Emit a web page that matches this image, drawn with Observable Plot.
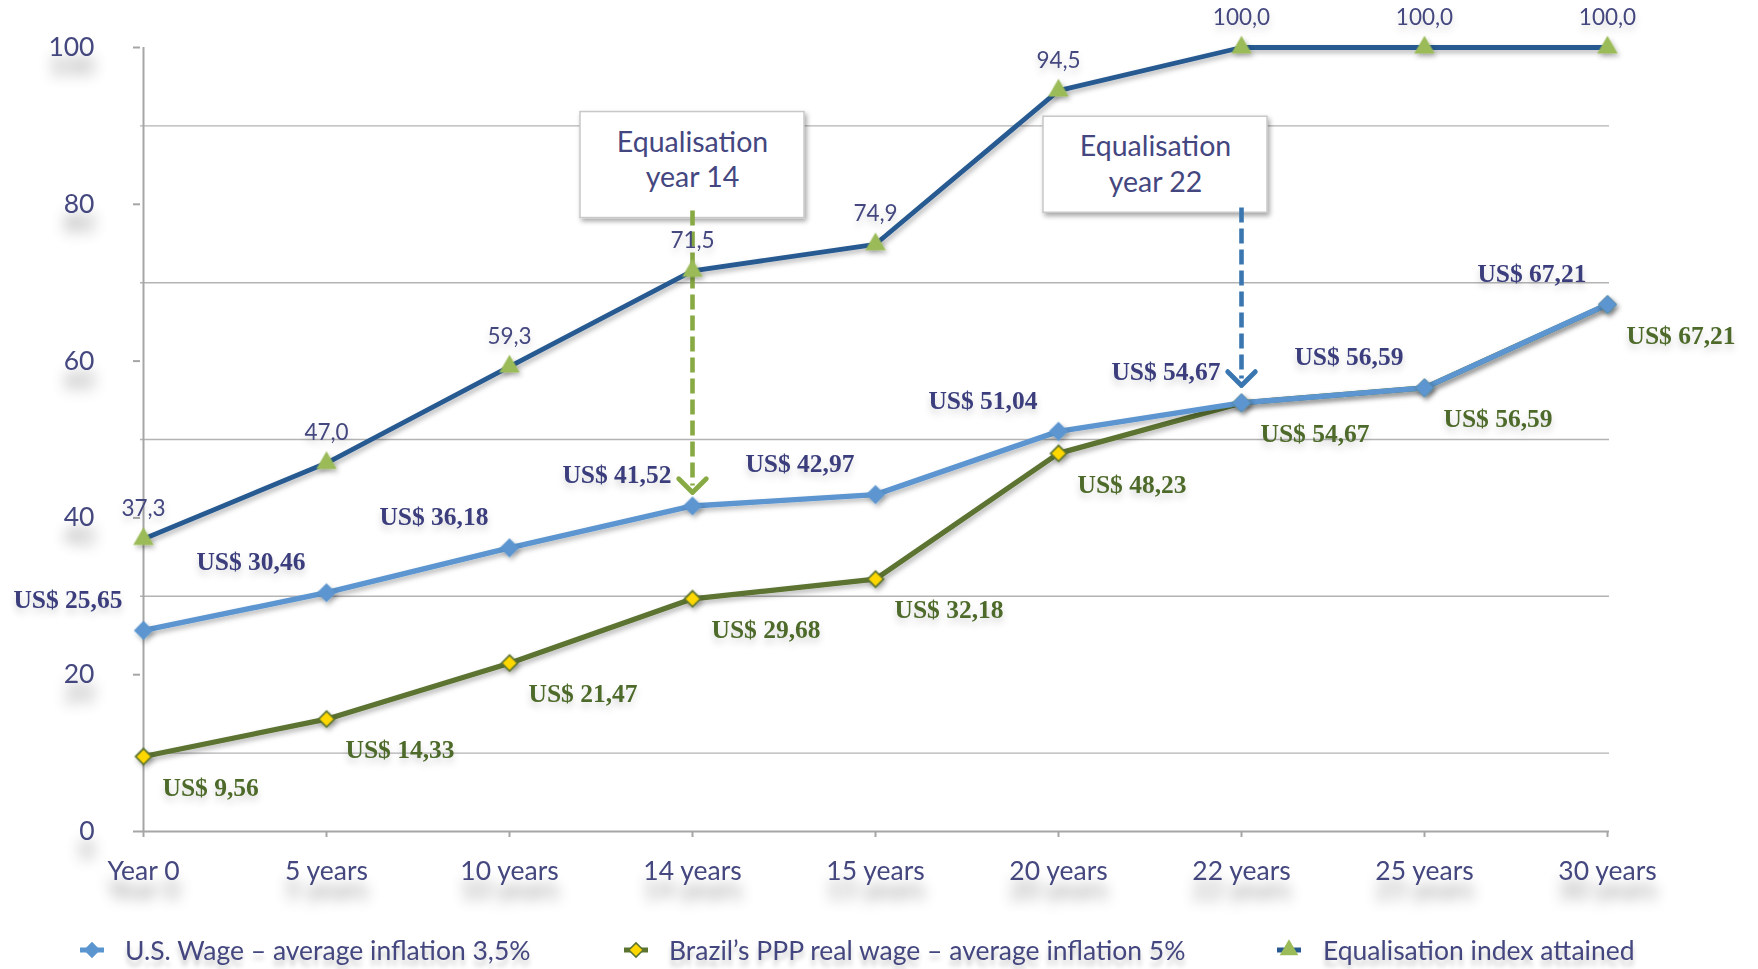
<!DOCTYPE html>
<html>
<head>
<meta charset="utf-8">
<script src="https://cdn.jsdelivr.net/npm/d3@7"></script>
<script src="https://cdn.jsdelivr.net/npm/@observablehq/plot@0.6"></script>
<style>
  html, body { margin: 0; padding: 0; background: #fff; }
  #chart svg { display: block; }
  #legend { position: relative; width: 1758px; height: 59px; font-family: Lato, "Open Sans", sans-serif; font-size: 26.5px; color: #44477f; }
  #legend .item { position: absolute; top: 24px; height: 32px; display: flex; align-items: center; white-space: nowrap; }
  #legend .item span { text-shadow: 0 6px 5px rgba(0,0,0,0.22); }
  #legend svg { position: absolute; overflow: visible; }
</style>
</head>
<body>
<div id="chart"></div>
<div id="legend"></div>
<script>
// Time horizon of the projection
const periods = ["Year 0", "5 years", "10 years", "14 years", "15 years", "20 years", "22 years", "25 years", "30 years"];

// Hourly wages in US$
const usWage     = [25.65, 30.46, 36.18, 41.52, 42.97, 51.04, 54.67, 56.59, 67.21];
const brazilWage = [9.56, 14.33, 21.47, 29.68, 32.18, 48.23, 54.67, 56.59, 67.21];

// Equalisation index (Brazil / U.S., %)
const equalisationIndex = [37.3, 47.0, 59.3, 71.5, 74.9, 94.5, 100.0, 100.0, 100.0];

// Axis ticks and gridlines
const yTickValues = [0, 20, 40, 60, 80, 100];
const gridValues = [10, 30, 50, 70, 90];

// Series names for the legend
const seriesNames = [
  "U.S. Wage – average inflation 3,5%",
  "Brazil’s PPP real wage – average inflation 5%",
  "Equalisation index attained"
];

// Call-outs marking the year the two wages meet
const calloutPeriods = ["14 years", "22 years"];
const calloutTexts = ["Equalisation\nyear 14", "Equalisation\nyear 22"];

const rows = periods.map((p, i) => ({ period: p, us: usWage[i], br: brazilWage[i], idx: equalisationIndex[i] }));
const callouts = calloutPeriods.map((p, i) => ({
  period: p,
  text: calloutTexts[i],
  wage: usWage[periods.indexOf(p)]
}));

const fmtUS = v => "US$ " + v.toFixed(2).replace(".", ",");
const fmtIdx = v => v.toFixed(1).replace(".", ",");

const C = {
  axisText: "#44477f",
  axis: "#a6a6a6",
  grid: "#b3b3b3",
  index: "#285a91",
  triangle: "#9bbb59",
  us: "#5b95cf",
  br: "#5b7330",
  brFill: "#ffd700",
  usLabel: "#3b3e7c",
  brLabel: "#4e6b2b",
  arrowGreen: "#88aa44",
  arrowBlue: "#3a77b0"
};

// call-out layout: horizontal shift (px), text level, box height (px)
const calloutShift = [0, -86];
const calloutLevel = [85.9, 85.3];
const calloutBoxH = [106, 96];
const serif = "'Liberation Serif', 'DejaVu Serif', serif";

const chart = Plot.plot({
  width: 1758,
  height: 910,
  marginLeft: 140,
  marginRight: 149,
  marginTop: 47,
  marginBottom: 79,
  style: { fontFamily: "Lato, 'Open Sans', sans-serif", background: "#fff", overflow: "visible" },
  x: { type: "point", domain: periods, padding: 0 },
  y: { domain: [0, 100] },
  marks: [
    Plot.ruleY(gridValues, { stroke: C.grid, strokeWidth: 1.4 }),
    Plot.ruleY([0], { stroke: C.axis, strokeWidth: 2 }),
    Plot.ruleX([periods[0]], { y1: 0, y2: 100, stroke: C.axis, strokeWidth: 2 }),
    Plot.axisY({ ticks: yTickValues, tickSize: 7, tickPadding: 39, fontSize: 26.5, fill: C.axisText, stroke: C.axis, strokeWidth: 2, label: null }),
    Plot.axisX({ tickSize: 6, tickPadding: 24, fontSize: 26.5, fill: C.axisText, stroke: C.axis, strokeWidth: 2, label: null }),

    // call-out text (boxes are added behind it after rendering)
    Plot.text(callouts, {
      x: "period", y: (d, i) => calloutLevel[i], text: "text",
      fontSize: 28.5, lineHeight: 1.24, fill: C.axisText
    }),

    // series lines
    Plot.line(rows, { x: "period", y: "idx", stroke: C.index, strokeWidth: 4.8 }),
    Plot.line(rows, { x: "period", y: "br", stroke: C.br, strokeWidth: 5.2 }),
    Plot.line(rows, { x: "period", y: "us", stroke: C.us, strokeWidth: 5.4 }),

    // dashed arrows from the call-outs to the meeting points
    Plot.link(callouts.slice(0, 1), {
      x1: "period", x2: "period", y1: () => 79.2, y2: d => d.wage + 2.6,
      stroke: C.arrowGreen, strokeWidth: 4.6, strokeDasharray: "15,6", markerEnd: "arrow"
    }),
    Plot.link(callouts.slice(1, 2), {
      x1: "period", x2: "period", y1: () => 79.6, y2: d => d.wage + 3.1,
      stroke: C.arrowBlue, strokeWidth: 4.6, strokeDasharray: "15,6", markerEnd: "arrow"
    }),

    // markers
    Plot.dot(rows, { x: "period", y: "idx", symbol: "triangle", r: 7.6, fill: C.triangle }),
    Plot.dot(rows, { x: "period", y: "br", symbol: "diamond2", r: 7.2, fill: C.brFill, stroke: C.br, strokeWidth: 1.7 }),
    Plot.dot(rows, { x: "period", y: "us", symbol: "diamond2", r: 8.6, fill: C.us }),

    // value labels
    Plot.text(rows, { x: "period", y: "idx", text: d => fmtIdx(d.idx), dy: -30, fontSize: 22.5, fill: C.axisText }),
    Plot.text(rows, {
      x: "period", y: "us", text: d => fmtUS(d.us), textAnchor: "end", dx: -21, dy: -31,
      fontSize: 25.5, fontWeight: "bold", fontFamily: serif, fill: C.usLabel
    }),
    Plot.text(rows, {
      x: "period", y: "br", text: d => fmtUS(d.br), textAnchor: "start", dx: 19, dy: 31,
      fontSize: 25.5, fontWeight: "bold", fontFamily: serif, fill: C.brLabel
    })
  ]
});

document.getElementById("chart").appendChild(chart);

// ---- shadows, arrowheads and call-out boxes ----
const svg = d3.select(chart);
const defs = svg.insert("defs", ":first-child");
function shadow(id, dx, dy, sd, op) {
  defs.append("filter").attr("id", id)
    .attr("x", "-50%").attr("y", "-50%").attr("width", "200%").attr("height", "300%")
    .append("feDropShadow")
    .attr("dx", dx).attr("dy", dy).attr("stdDeviation", sd)
    .attr("flood-color", "#000").attr("flood-opacity", op);
}
shadow("tickShadow", 0, 19, 7, 0.42);
shadow("lineShadow", 2, 3, 2.5, 0.28);
shadow("labelShadow", 0, 5, 3.5, 0.16);
shadow("boxShadow", 2, 3, 2.5, 0.35);

// larger open chevrons at the ends of the dashed arrows
chart.querySelectorAll("marker").forEach(m => {
  m.setAttribute("markerUnits", "userSpaceOnUse");
  m.setAttribute("markerWidth", "46");
  m.setAttribute("markerHeight", "46");
  m.setAttribute("stroke-width", "1.05");
});

svg.selectAll('g[aria-label="x-axis tick label"], g[aria-label="y-axis tick label"]').attr("filter", "url(#tickShadow)");
svg.selectAll('g[aria-label="line"], g[aria-label="dot"]').attr("filter", "url(#lineShadow)");

const textGroups = svg.selectAll('g[aria-label="text"]').nodes();
textGroups.slice(1).forEach(g => d3.select(g).attr("filter", "url(#labelShadow)"));

// call-out boxes behind their text, with the horizontal shift of each call-out
const calloutGroup = d3.select(textGroups[0]);
const xs = chart.scale("x"), ys = chart.scale("y");
const boxG = d3.select(textGroups[0].parentNode).insert("g", () => textGroups[0]).attr("filter", "url(#boxShadow)");
const boxW = 224;
calloutGroup.selectAll("text").each(function (d, i) {
  const cx = xs.apply(callouts[i].period) + calloutShift[i];
  const cy = ys.apply(calloutLevel[i]);
  d3.select(this).attr("transform", `translate(${cx},${cy})`);
  boxG.append("rect")
    .attr("x", cx - boxW / 2).attr("y", cy - 46)
    .attr("width", boxW).attr("height", calloutBoxH[i])
    .attr("fill", "#fff").attr("stroke", "#c8c8c8").attr("stroke-width", 1.5);
});

// ---- legend ----
const legendLayout = [
  { left: 79, textLeft: 125, line: C.us, symbol: d3.symbolDiamond2, fill: C.us, stroke: "none", size: 170 },
  { left: 623, textLeft: 669, line: C.br, symbol: d3.symbolDiamond2, fill: C.brFill, stroke: C.br, size: 130 },
  { left: 1276, textLeft: 1323, line: C.index, symbol: d3.symbolTriangle, fill: C.triangle, stroke: "none", size: 150 }
];
const legend = d3.select("#legend");
seriesNames.forEach((name, i) => {
  const L = legendLayout[i];
  const sw = legend.append("svg").attr("width", 26).attr("height", 20)
    .style("left", L.left + "px").style("top", "30px");
  sw.append("line").attr("x1", 1).attr("x2", 25).attr("y1", 10).attr("y2", 10)
    .attr("stroke", L.line).attr("stroke-width", 5);
  sw.append("path").attr("transform", "translate(13,10)")
    .attr("d", d3.symbol(L.symbol, L.size)())
    .attr("fill", L.fill).attr("stroke", L.stroke).attr("stroke-width", 1.5);
  legend.append("div").attr("class", "item").style("left", L.textLeft + "px")
    .append("span").text(name);
});
</script>
</body>
</html>
